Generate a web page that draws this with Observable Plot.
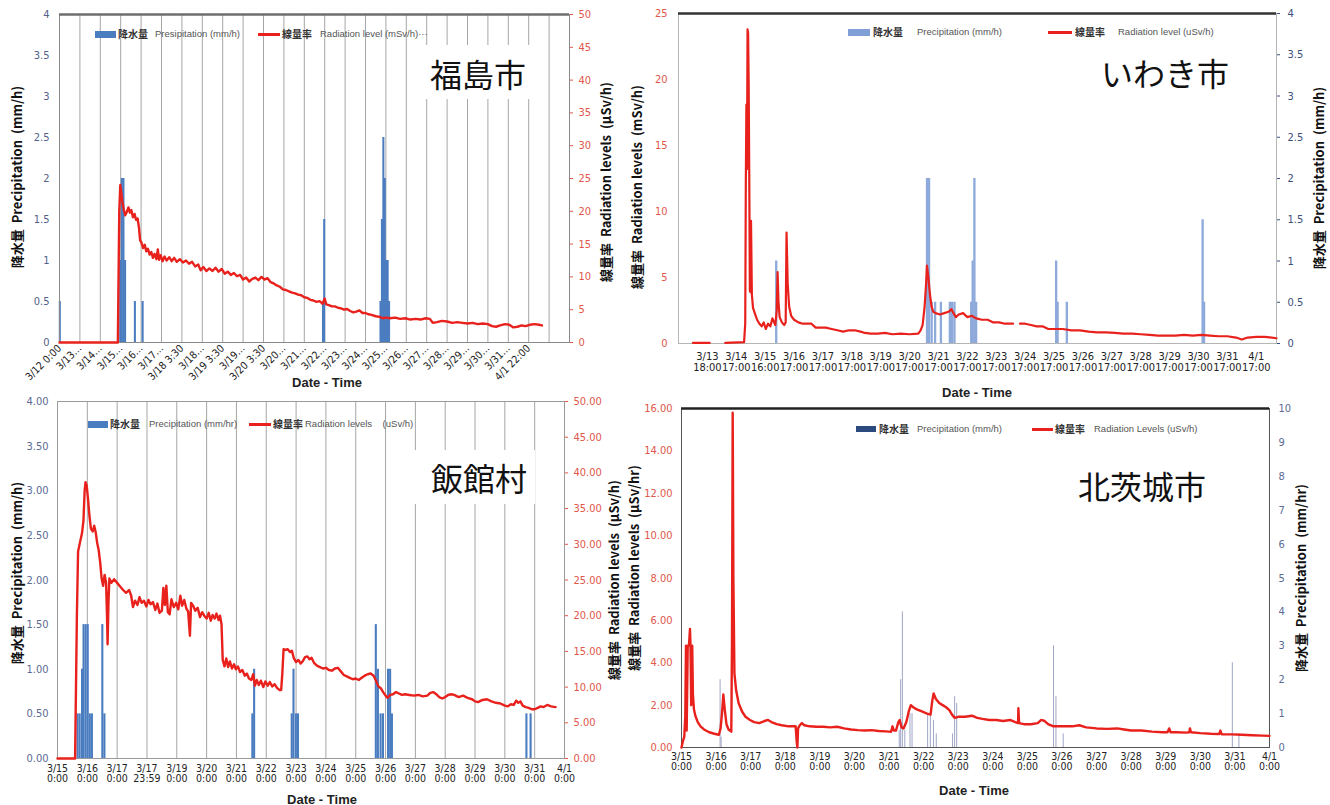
<!DOCTYPE html>
<html><head><meta charset="utf-8">
<script src="https://cdn.jsdelivr.net/npm/d3@7"></script>
<script src="https://cdn.jsdelivr.net/npm/@observablehq/plot@0.6"></script>
<style>
body{margin:0;background:#fff;}
#root{position:relative;width:1330px;height:805px;overflow:hidden;background:#fff;}
.t{position:absolute;white-space:pre;line-height:1;}
</style></head><body><div id="root"></div>
<script>
// ---------------- 福島市 (Fukushima) ----------------
const fkXLabels = ["3/12 0:00","3/13…","3/14…","3/15…","3/16…","3/17…","3/18 3:30","3/18…","3/19 3:30","3/19…","3/20 3:30","3/20…","3/21…","3/22…","3/23…","3/24…","3/25…","3/26…","3/27…","3/28…","3/29…","3/30…","3/31…","4/1 22:00"];
const fkPrecipTicks = [0,0.5,1,1.5,2,2.5,3,3.5,4];
const fkRadTicks = [0,5,10,15,20,25,30,35,40,45,50];
// [day since 3/12 0:00, mm/h]
const fkPrecip = [[0.04,0.5],[3.0,1.0],[3.08,2.0],[3.16,2.0],[3.24,1.0],[3.72,0.5],[4.1,0.5],[12.94,0.5],[13.0,1.5],[15.76,0.5],[15.83,1.5],[15.9,2.5],[15.97,2.0],[16.04,1.0],[16.11,1.0],[16.18,0.5]];
// [day since 3/12 0:00, μSv/h]
const fkRadiation = [[0,0],[2.86,0],[2.93,20],[2.98,24],[3.03,22.8],[3.08,21.5],[3.15,20.3],[3.22,19.4],[3.3,19.9],[3.38,20.6],[3.45,19.8],[3.52,20.2],[3.6,19.1],[3.68,19.6],[3.75,18.7],[3.83,18.9],[3.9,17.4],[3.95,15.6],[4.02,15.2],[4.1,14.4],[4.18,14.9],[4.25,13.9],[4.33,14.3],[4.42,13.4],[4.5,13.8],[4.58,12.9],[4.66,13.5],[4.75,12.7],[4.82,14.2],[4.88,12.6],[4.96,13.3],[5.05,12.4],[5.15,13.1],[5.25,12.5],[5.38,13.0],[5.5,12.4],[5.62,12.9],[5.75,12.3],[5.9,12.7],[6.05,12.2],[6.2,12.5],[6.35,12.0],[6.5,12.3],[6.65,11.6],[6.8,11.9],[6.92,11.0],[7.05,11.5],[7.2,10.9],[7.35,11.3],[7.5,10.9],[7.65,11.4],[7.8,10.8],[7.95,11.2],[8.1,10.5],[8.25,10.8],[8.4,10.3],[8.55,10.6],[8.7,10.1],[8.85,10.3],[9.0,9.6],[9.15,9.9],[9.3,9.3],[9.45,9.7],[9.6,9.9],[9.75,9.5],[9.9,10.0],[10.05,9.6],[10.2,9.8],[10.35,9.2],[10.5,9.0],[10.65,8.7],[10.8,8.5],[10.95,8.1],[11.1,8.0],[11.25,7.8],[11.4,7.6],[11.55,7.5],[11.7,7.3],[11.85,7.2],[12.0,6.9],[12.15,6.8],[12.3,6.5],[12.45,6.4],[12.6,6.2],[12.75,6.3],[12.9,5.9],[13.0,6.7],[13.08,5.8],[13.2,5.7],[13.35,5.5],[13.5,5.5],[13.65,5.3],[13.8,5.2],[13.95,5.0],[14.1,5.1],[14.25,4.8],[14.4,4.6],[14.55,4.7],[14.7,4.9],[14.85,4.5],[15.0,4.5],[15.15,4.3],[15.3,4.2],[15.5,4.0],[15.7,3.9],[15.85,3.7],[16.0,3.8],[16.2,3.7],[16.45,3.8],[16.7,3.6],[16.95,3.7],[17.2,3.5],[17.45,3.6],[17.7,3.5],[17.95,3.7],[18.15,3.6],[18.3,3.0],[18.5,3.1],[18.75,3.3],[19.0,3.2],[19.25,3.0],[19.5,3.1],[19.75,3.0],[20.0,2.9],[20.25,3.0],[20.5,2.8],[20.75,2.9],[21.0,2.8],[21.2,2.5],[21.4,2.4],[21.6,2.6],[21.85,2.8],[22.05,2.7],[22.25,2.3],[22.45,2.4],[22.65,2.6],[22.85,2.5],[23.05,2.7],[23.3,2.8],[23.5,2.7],[23.65,2.6]];

// ---------------- いわき市 (Iwaki) ----------------
const iwXLabels = ["3/13\n18:00","3/14\n17:00","3/15\n16:00","3/16\n17:00","3/17\n17:00","3/18\n17:00","3/19\n17:00","3/20\n17:00","3/21\n17:00","3/22\n17:00","3/23\n17:00","3/24\n17:00","3/25\n17:00","3/26\n17:00","3/27\n17:00","3/28\n17:00","3/29\n17:00","3/30\n17:00","3/31\n17:00","4/1\n17:00"];
const iwRadTicks = [0,5,10,15,20,25];
const iwPrecipTicks = [0,0.5,1,1.5,2,2.5,3,3.5,4];
// [day offset from 3/13 18:00 label, μSv/h]  (null = gap in record)
const iwRadiation = [[-0.5,0.05],[0.08,0.05],[0.3,null],[0.62,0.05],[1.27,0.1],[1.31,1.5],[1.33,12],[1.35,18.1],[1.37,13.2],[1.39,23.8],[1.41,23.5],[1.43,19.5],[1.45,12.5],[1.47,4.0],[1.49,3.9],[1.51,9.3],[1.54,3.7],[1.58,2.7],[1.64,2.3],[1.72,1.8],[1.8,1.5],[1.88,1.3],[1.95,1.6],[2.02,1.1],[2.1,1.5],[2.18,1.3],[2.25,1.9],[2.35,1.4],[2.4,2.5],[2.43,5.4],[2.46,3.2],[2.5,2.0],[2.58,1.6],[2.66,1.4],[2.71,1.6],[2.74,8.4],[2.78,4.5],[2.83,2.8],[2.9,2.1],[3.0,1.8],[3.15,1.6],[3.3,1.5],[3.45,1.5],[3.6,1.5],[3.75,1.2],[3.9,1.2],[4.1,1.2],[4.3,1.1],[4.5,1.0],[4.7,0.9],[4.9,1.0],[5.1,1.0],[5.3,0.9],[5.45,0.8],[5.65,0.75],[5.9,0.75],[6.15,0.8],[6.4,0.7],[6.7,0.75],[7.0,0.7],[7.3,0.75],[7.38,1.0],[7.45,1.4],[7.52,2.8],[7.57,4.5],[7.6,5.9],[7.65,5.0],[7.7,3.8],[7.76,2.8],[7.82,2.4],[7.9,2.3],[8.05,2.2],[8.2,2.3],[8.35,2.4],[8.45,2.6],[8.52,2.3],[8.6,2.0],[8.7,2.2],[8.85,2.3],[9.0,2.0],[9.15,2.1],[9.3,1.9],[9.5,1.8],[9.7,1.8],[9.9,1.6],[10.1,1.6],[10.3,1.5],[10.58,1.5],[10.7,null],[10.82,1.5],[11.0,1.5],[11.2,1.4],[11.4,1.3],[11.6,1.3],[11.8,1.1],[12.0,1.1],[12.3,1.1],[12.6,1.0],[12.9,1.0],[13.2,0.9],[13.5,0.85],[13.8,0.85],[14.1,0.8],[14.4,0.75],[14.7,0.75],[15.0,0.7],[15.3,0.65],[15.6,0.6],[15.9,0.6],[16.2,0.6],[16.5,0.65],[16.8,0.6],[17.1,0.65],[17.4,0.6],[17.7,0.55],[18.0,0.55],[18.3,0.45],[18.5,0.3],[18.7,0.45],[19.0,0.5],[19.3,0.5],[19.7,0.4]];
const iwPrecip = [[2.4,1.0],[7.62,2.0],[7.69,2.0],[7.78,0.5],[7.9,0.5],[8.1,0.5],[8.41,0.5],[8.49,0.5],[8.57,0.5],[9.15,0.5],[9.2,1.0],[9.26,2.0],[9.32,0.5],[12.09,1.0],[12.14,0.5],[12.46,0.5],[17.16,1.5],[17.21,0.5]];

// ---------------- 飯館村 (Iitate) ----------------
const iiXLabels = ["3/15\n0:00","3/16\n0:00","3/17\n0:00","3/17\n23:59","3/19\n0:00","3/20\n0:00","3/21\n0:00","3/22\n0:00","3/23\n0:00","3/24\n0:00","3/25\n0:00","3/26\n0:00","3/27\n0:00","3/28\n0:00","3/29\n0:00","3/30\n0:00","3/31\n0:00","4/1\n0:00"];
const iiPrecipTicks = [0,0.5,1,1.5,2,2.5,3,3.5,4];
const iiRadTicks = [0,5,10,15,20,25,30,35,40,45,50];
// [day since 3/15 0:00, mm/h]
const iiPrecip = [[0.69,0.5],[0.76,0.5],[0.84,1.0],[0.89,1.5],[0.96,1.5],[1.03,1.5],[1.1,0.5],[1.17,0.5],[1.52,1.5],[1.59,0.5],[6.55,0.5],[6.61,1.0],[7.87,0.5],[7.93,1.0],[8.01,0.5],[8.08,0.5],[10.69,1.5],[10.76,1.0],[10.85,0.5],[10.93,0.5],[11.1,1.0],[11.17,1.0],[11.23,0.5],[15.74,0.5],[15.88,0.5]];
// [day since 3/15 0:00, μSv/h]
const iiRadiation = [[0,0],[0.59,0],[0.65,20],[0.69,29],[0.75,30.2],[0.82,31.5],[0.87,33.3],[0.91,37.5],[0.94,38.7],[0.98,38.2],[1.02,36.5],[1.07,34],[1.12,32.2],[1.18,31.8],[1.23,32.6],[1.28,31.7],[1.33,30.2],[1.38,29.2],[1.43,27.5],[1.48,25.2],[1.53,24.2],[1.58,25.7],[1.63,24.6],[1.66,20],[1.68,16.0],[1.71,22],[1.74,25.2],[1.8,24.6],[1.9,25.1],[2.0,24.6],[2.1,24.1],[2.2,23.6],[2.3,23.2],[2.4,23.6],[2.47,22.8],[2.53,21.2],[2.6,22.1],[2.68,21.5],[2.75,22.6],[2.82,21.8],[2.9,22.1],[2.98,21.3],[3.05,22.2],[3.12,21.6],[3.2,21.9],[3.28,20.8],[3.35,21.7],[3.42,20.4],[3.5,20.7],[3.55,23.9],[3.6,21.5],[3.65,24.2],[3.7,20.5],[3.76,20.2],[3.82,22.3],[3.9,21.2],[3.98,21.8],[4.05,20.9],[4.12,22.8],[4.18,21.4],[4.25,22.2],[4.32,21.0],[4.38,20.6],[4.44,17.2],[4.48,21.8],[4.55,21.4],[4.62,20.7],[4.7,21.1],[4.78,19.8],[4.85,20.5],[4.92,20.0],[5.0,19.6],[5.07,20.4],[5.14,19.3],[5.2,20.1],[5.27,19.6],[5.33,20.3],[5.4,19.4],[5.45,20.0],[5.5,18.8],[5.54,13.8],[5.6,12.9],[5.66,14.0],[5.72,12.8],[5.78,13.6],[5.85,12.6],[5.92,13.2],[5.98,12.5],[6.05,12.9],[6.12,12.1],[6.2,12.4],[6.28,11.6],[6.35,11.9],[6.42,11.2],[6.5,11.0],[6.56,11.8],[6.62,10.2],[6.68,11.0],[6.75,10.3],[6.82,10.9],[6.9,10.0],[6.97,10.8],[7.05,10.2],[7.12,10.7],[7.2,10.1],[7.28,10.4],[7.36,9.9],[7.44,9.6],[7.5,9.6],[7.54,12],[7.58,15.3],[7.65,15.2],[7.72,15.3],[7.8,14.9],[7.86,15.1],[7.92,14.1],[8.0,13.5],[8.08,13.8],[8.15,13.3],[8.22,13.6],[8.3,14.2],[8.38,14.3],[8.45,13.9],[8.52,14.1],[8.6,13.4],[8.7,13.0],[8.8,12.8],[8.9,12.6],[9.0,12.7],[9.1,12.4],[9.2,12.3],[9.3,12.6],[9.4,12.7],[9.5,12.2],[9.6,11.7],[9.7,11.5],[9.8,11.3],[9.9,11.1],[10.0,11.2],[10.1,11.0],[10.2,11.3],[10.3,11.6],[10.4,11.8],[10.5,11.9],[10.6,11.6],[10.68,10.9],[10.76,10.1],[10.85,9.8],[10.92,9.3],[11.0,8.8],[11.07,8.5],[11.15,8.9],[11.25,9.0],[11.35,9.3],[11.45,9.1],[11.55,8.9],[11.65,9.0],[11.8,8.9],[11.95,8.8],[12.1,8.9],[12.25,8.7],[12.4,8.8],[12.5,9.2],[12.6,9.3],[12.7,9.0],[12.8,8.6],[12.9,8.4],[13.0,8.6],[13.1,8.9],[13.2,9.0],[13.3,8.9],[13.45,8.6],[13.6,8.8],[13.75,8.5],[13.9,8.3],[14.0,8.0],[14.1,7.9],[14.25,8.2],[14.4,8.3],[14.55,8.0],[14.7,7.8],[14.85,7.7],[15.0,7.4],[15.1,7.3],[15.2,7.6],[15.3,7.5],[15.38,8.1],[15.45,7.8],[15.52,8.0],[15.6,7.4],[15.7,7.2],[15.8,7.1],[15.9,6.9],[16.0,6.9],[16.1,7.1],[16.2,7.3],[16.3,7.2],[16.42,7.5],[16.55,7.3],[16.7,7.2]];

// ---------------- 北茨城市 (Kitaibaraki) ----------------
const kiXLabels = ["3/15\n0:00","3/16\n0:00","3/17\n0:00","3/18\n0:00","3/19\n0:00","3/20\n0:00","3/21\n0:00","3/22\n0:00","3/23\n0:00","3/24\n0:00","3/25\n0:00","3/26\n0:00","3/27\n0:00","3/28\n0:00","3/29\n0:00","3/30\n0:00","3/31\n0:00","4/1\n0:00"];
const kiRadTicks = [0,2,4,6,8,10,12,14,16];
const kiPrecipTicks = [0,1,2,3,4,5,6,7,8,9,10];
// [day since 3/15 0:00, μSv/h]
const kiRadiation = [[0,0],[0.04,0.3],[0.08,0.5],[0.11,1.5],[0.13,4.8],[0.15,0.8],[0.18,4.8],[0.2,4.8],[0.22,4.9],[0.245,5.6],[0.26,4.8],[0.28,2.0],[0.29,4.8],[0.31,4.8],[0.33,2.5],[0.36,1.8],[0.4,1.5],[0.47,1.2],[0.55,1.0],[0.65,0.85],[0.8,0.72],[0.95,0.65],[1.08,0.6],[1.13,0.9],[1.17,1.6],[1.21,2.5],[1.25,1.8],[1.3,1.1],[1.36,0.85],[1.44,0.75],[1.46,5],[1.48,15.8],[1.5,8],[1.53,3.5],[1.58,2.7],[1.65,2.1],[1.75,1.7],[1.85,1.45],[1.98,1.3],[2.1,1.2],[2.25,1.15],[2.4,1.25],[2.5,1.3],[2.6,1.2],[2.75,1.1],[2.9,1.05],[3.1,1.0],[3.3,1.0],[3.33,0.3],[3.35,0],[3.37,0.9],[3.42,1.05],[3.48,1.15],[3.55,1.05],[3.7,1.0],[3.9,0.98],[4.1,0.98],[4.3,0.95],[4.5,0.98],[4.7,0.9],[4.9,0.85],[5.1,0.82],[5.3,0.8],[5.5,0.82],[5.7,0.78],[5.9,0.76],[6.0,0.75],[6.06,0.74],[6.1,1.0],[6.14,0.8],[6.2,0.8],[6.27,1.2],[6.31,1.3],[6.36,0.95],[6.42,0.9],[6.5,1.2],[6.57,1.7],[6.63,2.0],[6.7,1.9],[6.8,1.8],[6.95,1.7],[7.1,1.6],[7.2,1.55],[7.25,2.2],[7.29,2.55],[7.35,2.3],[7.45,2.1],[7.55,2.0],[7.65,1.9],[7.75,1.75],[7.82,1.55],[7.9,1.4],[8.0,1.45],[8.2,1.45],[8.4,1.5],[8.55,1.4],[8.7,1.35],[8.9,1.3],[9.1,1.3],[9.3,1.25],[9.5,1.3],[9.65,1.2],[9.73,1.15],[9.74,1.85],[9.76,1.15],[9.9,1.1],[10.1,1.1],[10.3,1.15],[10.4,1.3],[10.5,1.25],[10.6,1.1],[10.75,1.0],[11.0,1.0],[11.3,1.0],[11.5,1.05],[11.7,0.95],[12.0,0.9],[12.3,0.88],[12.6,0.9],[12.8,0.85],[13.0,0.8],[13.3,0.8],[13.6,0.75],[13.9,0.72],[14.05,0.72],[14.1,0.9],[14.14,0.72],[14.3,0.72],[14.6,0.7],[14.68,0.72],[14.7,0.9],[14.73,0.72],[15.0,0.68],[15.3,0.65],[15.55,0.64],[15.58,0.8],[15.62,0.62],[15.9,0.62],[16.2,0.6],[16.5,0.58],[16.8,0.56],[17.0,0.55]];
const kiPrecip = [[1.13,2.0],[1.16,0.3],[6.31,0.5],[6.35,2.0],[6.4,4.0],[6.47,0.5],[6.62,1.0],[6.68,1.0],[7.13,1.0],[7.21,1.0],[7.3,0.8],[7.38,0.4],[7.85,0.4],[7.91,1.5],[7.97,1.3],[10.77,3.0],[10.84,1.5],[11.05,0.4],[15.94,2.5],[16.13,0.4]];

// ---------------- rendering ----------------
const FONT_TICK = "'Liberation Sans Narrow','DejaVu Sans Condensed','Liberation Sans',Arial,sans-serif";
const FONT_JP = "'Noto Sans CJK JP','Noto Sans',sans-serif";
const RED = "#e8211d";
const root = document.getElementById("root");

function place(node, left, top) {
  node.style.position = "absolute";
  node.style.left = left + "px";
  node.style.top = top + "px";
  root.appendChild(node);
}
function txt(s, x, y, o = {}) {
  const d = document.createElement("div");
  d.className = "t";
  d.textContent = s;
  d.style.left = x + "px";
  d.style.top = y + "px";
  d.style.fontSize = (o.size || 12) + "px";
  d.style.fontWeight = o.weight || "normal";
  d.style.color = o.color || "#222";
  d.style.fontFamily = o.family || FONT_JP;
  if (o.rotate) d.style.transform = "translate(-50%,-50%) rotate(-90deg)";
  else if (o.center) d.style.transform = "translate(-50%,-50%)";
  else d.style.transform = "translateY(-50%)";
  root.appendChild(d);
  return d;
}
function box(x, y, w, h, bg) {
  const d = document.createElement("div");
  d.style.cssText = `position:absolute;left:${x}px;top:${y}px;width:${w}px;height:${h}px;background:${bg};`;
  root.appendChild(d);
  return d;
}

function makePanel(c) {
  const common = {
    width: c.w, height: c.h,
    marginLeft: c.ml, marginRight: c.mr, marginTop: c.mt, marginBottom: c.mb,
    style: {background: "transparent", overflow: "visible", fontFamily: FONT_TICK, fontSize: c.fs + "px"}
  };
  const baseMarks = [];
  if (c.grid) baseMarks.push(Plot.gridX(c.grid, {stroke: "#a6a6a6", strokeOpacity: 1, strokeWidth: 1}));
  baseMarks.push(Plot.rect(c.precip, {x1: d => d[0] - c.barW / 2, x2: d => d[0] + c.barW / 2, y1: 0, y2: d => d[1], fill: c.barColor}));
  baseMarks.push(Plot.frame({stroke: c.frame, strokeWidth: 1}));
  if (c.topRule) baseMarks.push(Plot.ruleY([c.pDomain[1]], {stroke: c.topRule, strokeWidth: 2.5}));
  baseMarks.push(Plot.axisY(c.pTicks, {anchor: c.pSide, tickSize: c.pTick || 0, tickPadding: c.pPad, tickFormat: c.pFmt, color: c.pColor, label: null}));
  baseMarks.push(Plot.axisX(c.xTicks, {tickSize: 0, tickPadding: c.xPad, tickRotate: c.xRotate || 0, tickFormat: d => c.xLabels[d], color: "#222", label: null, fontSize: c.xfs}));
  const base = Plot.plot({...common, x: {domain: c.xDomain}, y: {domain: c.pDomain}, marks: baseMarks});
  const over = Plot.plot({...common, x: {domain: c.xDomain, axis: null}, y: {domain: c.rDomain}, marks: [
    Plot.lineY(c.rad, {x: d => d[0], y: d => d[1], stroke: RED, strokeWidth: c.lw, strokeLinejoin: "round"}),
    Plot.axisY(c.rTicks, {anchor: c.rSide, tickSize: c.rTick || 0, tickPadding: c.rPad, tickFormat: c.rFmt, color: c.rColor, label: null})
  ]});
  place(base, c.left, c.top);
  place(over, c.left, c.top);
}

const f2 = d3.format(".2f");

// Panel 1: 福島市
makePanel({left: 0, top: 0, w: 625, h: 395, ml: 59, mr: 56, mt: 14, mb: 53, fs: 11,
  xDomain: [0, 25], grid: d3.range(1, 25), xTicks: d3.range(0, 24), xLabels: fkXLabels, xRotate: -45, xPad: 4, xfs: 10.5,
  precip: fkPrecip, pDomain: [0, 4], pTicks: fkPrecipTicks, pFmt: d => String(d), pColor: "#52618a", pSide: "left", pPad: 10,
  barW: 0.1, barColor: "#4a7cc0", frame: "#8a8a8a", topRule: "#6e6e6e",
  rad: fkRadiation, rDomain: [0, 50], rTicks: fkRadTicks, rFmt: d => String(d), rColor: "#e0574b", rSide: "right", rPad: 6, rTick: 3, lw: 2.4});

// Panel 2: いわき市
makePanel({left: 625, top: 0, w: 705, h: 400, ml: 53, mr: 54, mt: 13, mb: 57, fs: 11,
  xDomain: [-1, 19.7], xTicks: d3.range(0, 20), xLabels: iwXLabels, xPad: 9, xfs: 11,
  precip: iwPrecip, pDomain: [0, 4], pTicks: iwPrecipTicks, pFmt: d => String(d), pColor: "#3c4f7c", pSide: "right", pPad: 8, pTick: 3,
  barW: 0.08, barColor: "#8eaadb", frame: "#b5b5b5", topRule: "#333",
  rad: iwRadiation, rDomain: [0, 25], rTicks: iwRadTicks, rFmt: d => String(d), rColor: "#e0574b", rSide: "left", rPad: 11, lw: 2.2});

// Panel 3: 飯館村
makePanel({left: 0, top: 395, w: 625, h: 410, ml: 57, mr: 61, mt: 6, mb: 47, fs: 11,
  xDomain: [0, 17], grid: d3.range(1, 17), xTicks: d3.range(0, 18), xLabels: iiXLabels, xPad: 6, xfs: 10.5,
  precip: iiPrecip, pDomain: [0, 4], pTicks: iiPrecipTicks, pFmt: f2, pColor: "#5b6b95", pSide: "left", pPad: 9,
  barW: 0.07, barColor: "#4a7cc0", frame: "#9a9a9a",
  rad: iiRadiation, rDomain: [0, 50], rTicks: iiRadTicks, rFmt: f2, rColor: "#e0574b", rSide: "right", rPad: 6, rTick: 3, lw: 2.4});

// Panel 4: 北茨城市
makePanel({left: 625, top: 395, w: 705, h: 410, ml: 56, mr: 61, mt: 13, mb: 58, fs: 11,
  xDomain: [0, 17], xTicks: d3.range(0, 18), xLabels: kiXLabels, xPad: 5, xfs: 10.5,
  precip: kiPrecip, pDomain: [0, 10], pTicks: kiPrecipTicks, pFmt: d => String(d), pColor: "#5b6b95", pSide: "right", pPad: 9,
  barW: 0.03, barColor: "#a3a9c9", frame: "#555", topRule: "#222",
  rad: kiRadiation, rDomain: [0, 16], rTicks: kiRadTicks, rFmt: f2, rColor: "#e0574b", rSide: "left", rPad: 9, lw: 2.4});

// white boxes behind place names (panels with gridlines)
box(421, 45, 124, 54, "#fff");
box(414, 450, 121, 54, "#fff");

// place names
txt("福島市", 478, 73, {size: 32, center: true, color: "#111"});
txt("いわき市", 1165, 72, {size: 32, center: true, color: "#111"});
txt("飯館村", 479, 477, {size: 32, center: true, color: "#111"});
txt("北茨城市", 1142, 485, {size: 32, center: true, color: "#111"});

// axis titles
const AT = {size: 13, weight: "bold", rotate: true, color: "#111"};
txt("降水量  Precipitation  (mm/h)", 16, 177, AT);
txt("線量率  Radiation levels  (μSv/h)", 605, 182, AT);
txt("線量率  Radiation levels  (mSv/h)", 636, 187, AT);
txt("降水量  Precipitation  (mm/h)", 1318, 178, AT);
txt("降水量  Precipitation  (mm/h)", 16, 573, AT);
txt("線量率  Radiation levels  (μSv/h)", 613, 580, AT);
txt("線量率  Radiation levels  (μSv/hr)", 633, 568, AT);
txt("降水量  Precipitation  (mm/hr)", 1300, 578, AT);

// x axis titles
const XT = {size: 13, weight: "bold", center: true, color: "#222", family: "'Liberation Sans',Arial,sans-serif"};
txt("Date - Time", 327, 382, XT);
txt("Date - Time", 977, 392, XT);
txt("Date - Time", 322, 799, XT);
txt("Date - Time", 974, 790, XT);

// legends
const LJ = {size: 10, weight: "bold", color: "#333"};
const LE = {size: 9.5, color: "#555", family: "'Liberation Sans Narrow','Liberation Sans',Arial,sans-serif"};
// panel 1
box(95, 31, 21, 7, "#4a7cc0"); txt("降水量", 118, 34, LJ); txt("Presipitation (mm/h)", 155, 34, LE);
box(258, 33, 22, 3, RED); txt("線量率", 282, 34, LJ); txt("Radiation level (mSv/h)···", 320, 34, LE);
// panel 2
box(848, 29, 22, 7, "#7f9fd6"); txt("降水量", 873, 32, LJ); txt("Precipitation (mm/h)", 917, 32, LE);
box(1048, 31, 24, 3, RED); txt("線量率", 1075, 32, LJ); txt("Radiation level (uSv/h)", 1118, 32, LE);
// panel 3
box(88, 421, 20, 7, "#4a7cc0"); txt("降水量", 110, 424, LJ); txt("Precipitation (mm/hr)", 149, 424, LE);
box(249, 423, 22, 3, RED); txt("線量率", 273, 424, LJ); txt("Radiation levels    (uSv/h)", 305, 424, LE);
// panel 4
box(856, 426, 20, 6, "#2b4a80"); txt("降水量", 879, 429, LJ); txt("Precipitation (mm/h)", 917, 429, LE);
box(1032, 428, 21, 3, RED); txt("線量率", 1055, 429, LJ); txt("Radiation Levels (uSv/h)", 1094, 429, LE);
</script></body></html>
